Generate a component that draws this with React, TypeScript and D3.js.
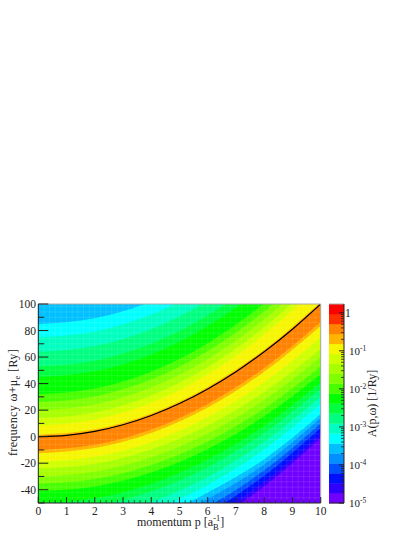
import React from 'react'
import * as d3 from 'd3'

const momentum = [0, 2, 4, 6, 8, 10]

// palette of the colour bar, bottom band first
const bandColors = [
  '#7000ff', '#3000ff', '#0010ff', '#0050ff', '#0090ff', '#00c0ff', '#00ffff',
  '#00ffc0', '#00ff80', '#00ff40', '#00ff00', '#48ff00', '#80ff00', '#a8ff00',
  '#d0ff00', '#f6f600', '#ffb400', '#ff8200', '#ff3000', '#ff0000',
]

// frequency of the top edge of each band (band 1 first)
const upperEdges = [
  [250, 250, 250, 250, 250, 250],
  [250, 250, 250, 250, 250, 250],
  [250, 250, 250, 250, 250, 250],
  [250, 250, 250, 250, 250, 250],
  [250, 250, 250, 250, 250, 250],
  [85, 89.3, 102, 123.5, 153.5, 192],
  [75, 79.3, 92, 113.5, 143.5, 182],
  [64, 68.3, 81, 102.5, 132.5, 171],
  [53, 57.3, 70, 91.5, 121.5, 160],
  [45, 49.3, 62, 83.5, 113.5, 152],
  [32, 36.3, 49, 70.5, 100.5, 139],
  [26, 30.3, 43, 64.5, 94.5, 133],
  [20, 24.3, 37, 58.5, 88.5, 127],
  [14, 18.3, 31, 52.5, 82.5, 121],
  [8.5, 12.8, 25.5, 47, 77, 115.5],
  [1.5, 5.5, 17.5, 37.5, 65.5, 101.5],
  [0.2, 4.2, 16.2, 36.2, 64.2, 100.2],
]

// frequency of the bottom edge of each band (band 1 first)
const lowerEdges = [
  [-102, -98, -85.8, -65.6, -37.4, -1],
  [-98, -94, -82, -62, -34, 2],
  [-93.5, -89.5, -77.5, -57.5, -29.5, 6.5],
  [-88, -84, -72.3, -52.7, -25.3, 10],
  [-83, -79, -67.5, -47, -21, 14],
  [-77, -73.2, -62, -42, -17, 17],
  [-71, -67.2, -55.6, -36.4, -9.6, 25],
  [-64, -60.2, -49, -30.2, -3.8, 30],
  [-56, -52.3, -41.3, -23, 2.9, 36],
  [-50, -46.4, -35.4, -17.2, 8.2, 41],
  [-41, -37.5, -27, -9.3, 15.3, 47],
  [-35.5, -32, -21.3, -3.6, 21.1, 53],
  [-30, -26.4, -15.6, 2.4, 27.6, 60],
  [-24, -20.4, -9.6, 8.4, 33.6, 66],
  [-19, -15.2, -4, 14.8, 41, 75],
  [-12.5, -8.6, 2.8, 22, 49, 83.5],
  [-10, -6.1, 5.4, 24.7, 51.8, 86.5],
]

// quasi-particle dispersion, the black line
const linePeak = [0, 1, 4, 9, 16, 25, 36, 49, 64, 81, 100]
const linePeakP = [0, 1, 2, 3, 4, 5, 6, 7, 8, 9, 10]

const xTicks = [0, 1, 2, 3, 4, 5, 6, 7, 8, 9, 10]
const yTicks = [-40, -20, 0, 20, 40, 60, 80, 100]
const yMinor = [-50, -30, -10, 10, 30, 50, 70, 90]
const cbarExponents = [-5, -4, -3, -2, -1]
const cbarMinors = [2, 3, 4, 5, 6, 7, 8, 9]

const left = 38.3
const right = 320.7
const top = 304
const bottom = 503
const cbarLeft = 329
const cbarRight = 344
const bandCount = bandColors.length

const x = d3.scaleLinear().domain([0, 10]).range([left, right])
const y = d3.scaleLinear().domain([-50, 100]).range([bottom, top])
const cbarY = d3.scaleLog().domain([1e-5, 1.7]).range([bottom, top])

const font = "'Liberation Serif', serif"
const textColor = '#222'

export default function App() {
  const bandArea = (low: number[], up: number[]) =>
    d3
      .area<number>()
      .x((d) => x(d))
      .y0((_, i) => y(low[i]))
      .y1((_, i) => y(up[i]))
      .curve(d3.curveMonotoneX)(momentum) as string

  const peakPath = d3
    .line<number>()
    .x((d) => x(d))
    .y((_, i) => y(linePeak[i]))
    .curve(d3.curveCatmullRom)(linePeakP) as string

  const bandHeight = (bottom - top) / bandCount
  const cellX = d3.range(0, 10.01, 0.2)
  const cellY = d3.range(-50, 100.01, 4)

  return (
    <svg
      width={415}
      height={537}
      style={{ position: 'absolute', left: 0, top: 0, background: '#fff' }}
      fontFamily={font}
    >
      <defs>
        <clipPath id="plot">
          <rect x={left} y={top} width={right - left} height={bottom - top} />
        </clipPath>
      </defs>

      <g clipPath="url(#plot)">
        <rect x={left} y={top} width={right - left} height={bottom - top} fill={bandColors[0]} />
        {lowerEdges.map((low, i) => (
          <path key={i} d={bandArea(low, upperEdges[i])} fill={bandColors[i + 1]} />
        ))}
        {/* faint cell raster showing through the filled contours */}
        {cellX.map((d) => (
          <line key={d} x1={x(d)} x2={x(d)} y1={top} y2={bottom} stroke="#fff" strokeOpacity={0.1} />
        ))}
        {cellY.map((d) => (
          <line key={d} x1={left} x2={right} y1={y(d)} y2={y(d)} stroke="#fff" strokeOpacity={0.1} />
        ))}
        <path d={peakPath} fill="none" stroke="#000" strokeWidth={1.2} />
      </g>

      {/* frame */}
      <path d={`M${left},${top}H${right}V${bottom}`} fill="none" stroke="#aaa" strokeWidth={1} />
      <path d={`M${left},${top}V${bottom}H${right}`} fill="none" stroke="#222" strokeWidth={1} />

      {/* x axis */}
      {d3.range(0, 10.01, 0.2).map((d) => {
        const major = Math.abs(d - Math.round(d)) < 1e-6
        return (
          <line key={d} x1={x(d)} x2={x(d)} y1={bottom} y2={bottom - (major ? 6 : 3)} stroke="#222" strokeOpacity={major ? 1 : 0.7} />
        )
      })}
      {xTicks.map((d) => (
        <text key={d} x={x(d)} y={514.5} fontSize={11.5} textAnchor="middle" fill={textColor}>
          {d}
        </text>
      ))}
      <text x={137} y={525.5} fontSize={12} fill={textColor}>
        momentum p [a
        <tspan dy={4} fontSize={8.5}>B</tspan>
        <tspan dy={-8.5} dx={-5.5} fontSize={8.5}>-1</tspan>
        <tspan dy={4.5}>]</tspan>
      </text>

      {/* y axis */}
      {yTicks.map((d) => (
        <g key={d}>
          <line x1={left} x2={left + 10} y1={y(d)} y2={y(d)} stroke="#222" />
          <text x={36} y={y(d) + 4} fontSize={11.5} textAnchor="end" fill={textColor}>
            {d}
          </text>
        </g>
      ))}
      {yMinor.map((d) => (
        <line key={d} x1={left} x2={left + 6} y1={y(d)} y2={y(d)} stroke="#222" />
      ))}
      <text
        transform="translate(17,402.5) rotate(-90)"
        fontSize={12}
        textAnchor="middle"
        fill={textColor}
        letterSpacing={0.35}
      >
        frequency ω+μ
        <tspan dy={3} fontSize={8.5}>e</tspan>
        <tspan dy={-3}> [Ry]</tspan>
      </text>

      {/* colour bar */}
      {bandColors.map((c, i) => (
        <rect
          key={c}
          x={cbarLeft}
          y={bottom - (i + 1) * bandHeight}
          width={cbarRight - cbarLeft}
          height={bandHeight + 0.3}
          fill={c}
        />
      ))}
      <path d={`M${cbarLeft},${top}H${cbarRight}`} stroke="#aaa" fill="none" />
      <path d={`M${cbarRight},${top}V${bottom}H${cbarLeft}`} stroke="#222" fill="none" />
      {[...cbarExponents, 0].map((e) => (
        <line
          key={e}
          x1={cbarRight}
          x2={cbarRight - 5}
          y1={cbarY(10 ** e)}
          y2={cbarY(10 ** e)}
          stroke="#222"
        />
      ))}
      {cbarExponents.map((e) =>
        cbarMinors.map((m) => (
          <line
            key={`${e}-${m}`}
            x1={cbarRight}
            x2={cbarRight - 3}
            y1={cbarY(m * 10 ** e)}
            y2={cbarY(m * 10 ** e)}
            stroke="#222"
            strokeOpacity={0.8}
          />
        ))
      )}
      {cbarExponents.map((e) => (
        <text key={e} x={349} y={cbarY(10 ** e) + 4} fontSize={11} fill={textColor}>
          10
          <tspan dy={-4} fontSize={7.5}>{e}</tspan>
        </text>
      ))}
      <text x={345} y={317} fontSize={11.5} fill={textColor}>
        1
      </text>
      <text
        transform="translate(375.5,403.5) rotate(-90)"
        fontSize={12}
        textAnchor="middle"
        fill={textColor}
      >
        A(p,ω) [1/Ry]
      </text>
    </svg>
  )
}
